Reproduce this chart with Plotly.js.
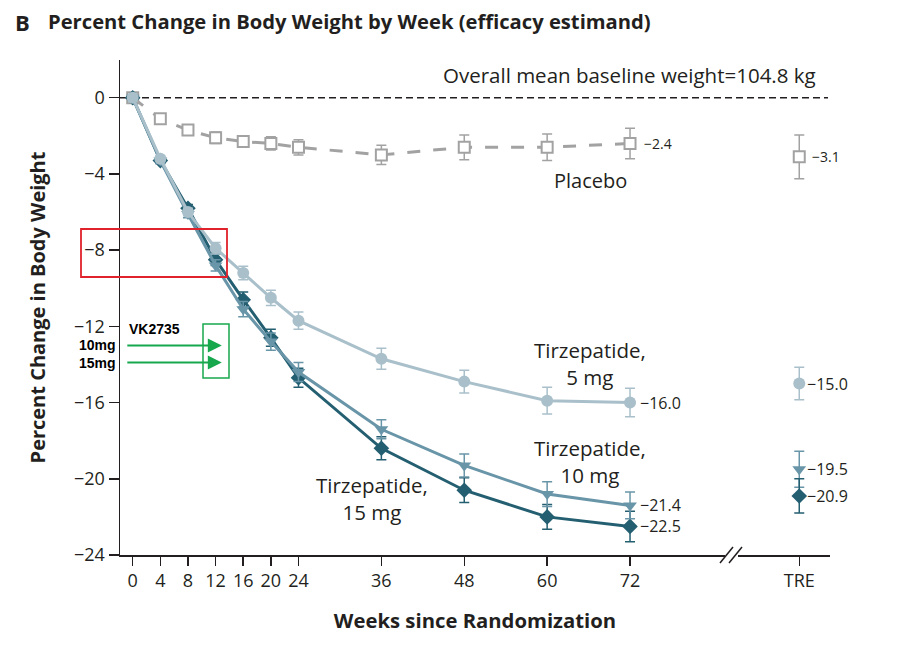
<!DOCTYPE html>
<html>
<head>
<meta charset="utf-8">
<script src="https://cdn.plot.ly/plotly-3.0.1.min.js"></script>
<style>
  html, body { margin: 0; padding: 0; background: #fff; }
  #chart { width: 898px; height: 656px; }
</style>
</head>
<body>
<div id="chart"></div>
<script>
// ---------------- data ----------------
const weeks = [0, 4, 8, 12, 16, 20, 24, 36, 48, 60, 72];
const placebo    = [0, -1.1, -1.7, -2.1, -2.3, -2.4, -2.6, -3.0, -2.6, -2.6, -2.4];
const placeboErr = [0, 0.2, 0.25, 0.3, 0.3, 0.35, 0.4, 0.5, 0.65, 0.7, 0.8];
const tirz5      = [0, -3.2, -6.0, -7.9, -9.2, -10.5, -11.7, -13.7, -14.9, -15.9, -16.0];
const tirz5Err   = [0, 0.15, 0.2, 0.3, 0.35, 0.4, 0.45, 0.55, 0.6, 0.7, 0.75];
const tirz10     = [0, -3.3, -6.1, -8.8, -11.1, -12.8, -14.4, -17.4, -19.3, -20.8, -21.4];
const tirz10Err  = [0, 0.15, 0.2, 0.3, 0.4, 0.45, 0.5, 0.5, 0.6, 0.65, 0.7];
const tirz15     = [0, -3.3, -5.8, -8.5, -10.6, -12.6, -14.7, -18.4, -20.6, -22.0, -22.5];
const tirz15Err  = [0, 0.15, 0.2, 0.3, 0.4, 0.45, 0.5, 0.6, 0.65, 0.65, 0.8];

// treatment-regimen estimand (TRE) values
const treWeek = 96.5;
const treValues = { placebo: -3.1, tirz5: -15.0, tirz10: -19.5, tirz15: -20.9 };
const treErr    = { placebo: 1.15, tirz5: 0.85, tirz10: 0.95, tirz15: 0.9 };

// tick labels
const xTickVals = [0, 4, 8, 12, 16, 20, 24, 36, 48, 60, 72, treWeek];
const xTickText = ['0', '4', '8', '12', '16', '20', '24', '36', '48', '60', '72', 'TRE'];
const yTickVals = [0, -4, -8, -12, -16, -20, -24];
const yTickText = yTickVals.map(v => v === 0 ? '0' : '\u2212' + Math.abs(v));

// VK2735 overlay
const vkLabels = ['10mg', '15mg'];
const vkValues = [-13.0, -13.9];
const vkWeek = 12.9;

// ---------------- styling ----------------
const C = {
  placebo: '#a2a2a2',
  tirz5: '#a9c0cb',
  tirz10: '#6995a8',
  tirz15: '#245f71',
  text: '#231f20',
  green: '#17a84e',
  red: '#e0222c'
};
const FONT = '"Open Sans", Lato, sans-serif';
const ARIAL = 'Arial, "Liberation Sans", sans-serif';
const L = 120, R = 68, T = 60, B = 101, WIDTH = 898, HEIGHT = 656;
const PW = WIDTH - L - R, PH = HEIGHT - T - B;
const px = X => (X - L) / PW;
const py = Y => (HEIGHT - B - Y) / PH;
const fmt = v => '\u2212' + Math.abs(v).toFixed(1);

function markerStyle(color, symbol, size, open) {
  return { symbol: symbol, size: size, color: open ? '#fff' : color,
           line: { color: color, width: open ? 2 : 0 } };
}
function series(name, y, err, color, symbol, size, open, dash) {
  return {
    type: 'scatter', mode: 'lines+markers', name: name,
    x: weeks, y: y,
    error_y: { type: 'data', array: err, visible: true, color: color, thickness: 1.5, width: 5 },
    line: { color: color, width: 3, dash: dash },
    marker: markerStyle(color, symbol, size, open),
    cliponaxis: false, hoverinfo: 'skip'
  };
}
function tre(name, key, color, symbol, size, open) {
  return {
    type: 'scatter', mode: 'markers', name: name + ' TRE',
    x: [treWeek], y: [treValues[key]],
    error_y: { type: 'data', array: [treErr[key]], visible: true, color: color, thickness: 1.5, width: 5 },
    marker: markerStyle(color, symbol, size, open),
    cliponaxis: false, hoverinfo: 'skip'
  };
}

const data = [
  series('Placebo', placebo, placeboErr, C.placebo, 'square', 11, true, '13px,13px'),
  series('Tirzepatide 15 mg', tirz15, tirz15Err, C.tirz15, 'diamond', 12, false, 'solid'),
  series('Tirzepatide 10 mg', tirz10, tirz10Err, C.tirz10, 'triangle-down', 12, false, 'solid'),
  series('Tirzepatide 5 mg', tirz5, tirz5Err, C.tirz5, 'circle', 12, false, 'solid'),
  tre('Placebo', 'placebo', C.placebo, 'square', 11, true),
  tre('Tirzepatide 5 mg', 'tirz5', C.tirz5, 'circle', 12, false),
  tre('Tirzepatide 10 mg', 'tirz10', C.tirz10, 'triangle-down', 12, false),
  tre('Tirzepatide 15 mg', 'tirz15', C.tirz15, 'diamond', 12, false)
];

const last = a => a[a.length - 1];
const lastWeek = last(weeks);
const endLabel = (x, y, shift, size) => ({ x: x, y: y, xanchor: 'left', yanchor: 'middle', xshift: shift,
  text: fmt(y), showarrow: false, font: { family: FONT, size: size, color: C.text } });
const textLabel = (X, Y, text, size) => ({ xref: 'paper', yref: 'paper', x: px(X), y: py(Y),
  xanchor: 'center', yanchor: 'middle', text: text, showarrow: false,
  font: { family: FONT, size: size, color: C.text } });

const annotations = [
  { xref: 'paper', yref: 'paper', x: px(13), y: py(22), xanchor: 'left', yanchor: 'middle',
    text: '<b>B</b>', showarrow: false, font: { family: FONT, size: 22, color: C.text } },
  { xref: 'paper', yref: 'paper', x: px(818), y: py(75), xanchor: 'right', yanchor: 'middle',
    text: 'Overall mean baseline weight=104.8 kg', showarrow: false, font: { family: FONT, size: 20.5, color: C.text } },
  textLabel(590, 180, 'Placebo', 20),
  textLabel(590, 363, 'Tirzepatide,<br>5 mg', 20.5),
  textLabel(590, 461, 'Tirzepatide,<br>10 mg', 20.5),
  textLabel(372, 498, 'Tirzepatide,<br>15 mg', 20.5),
  // end-value labels (from data)
  endLabel(lastWeek, last(placebo), 12, 14),
  endLabel(lastWeek, last(tirz5), 8, 16),
  endLabel(lastWeek, last(tirz10), 8, 16),
  endLabel(lastWeek, last(tirz15), 8, 16),
  endLabel(treWeek, treValues.placebo, 11, 14),
  endLabel(treWeek, treValues.tirz5, 6, 16),
  endLabel(treWeek, treValues.tirz10, 6, 16),
  endLabel(treWeek, treValues.tirz15, 6, 16),
  // VK2735 overlay
  { xref: 'paper', yref: 'paper', x: px(127), y: py(329), xanchor: 'left', yanchor: 'middle',
    text: '<b>VK2735</b>', showarrow: false, font: { family: ARIAL, size: 14, color: '#000' } }
];
vkLabels.forEach((lab, i) => {
  annotations.push({ xref: 'paper', yref: 'y', x: px(118), y: vkValues[i], xanchor: 'right', yanchor: 'middle',
    text: '<b>' + lab + '</b>', showarrow: false, font: { family: ARIAL, size: 14, color: '#000' } });
  annotations.push({ x: vkWeek, y: vkValues[i], text: '', showarrow: true, ax: -96, ay: 0,
    arrowhead: 2, arrowsize: 1.4, arrowwidth: 2, arrowcolor: C.green });
});

const shapes = [
  // zero reference line
  { type: 'line', xref: 'paper', yref: 'y', x0: 0, x1: px(828), y0: 0, y1: 0,
    line: { color: C.text, width: 1.5, dash: '7px,4px' }, layer: 'below' },
  // axis break
  { type: 'rect', xref: 'paper', yref: 'paper', x0: px(725), x1: px(738), y0: py(558), y1: py(552),
    fillcolor: '#fff', line: { width: 0 } },
  { type: 'line', xref: 'paper', yref: 'paper', x0: px(720), y0: py(563), x1: px(733), y1: py(547),
    line: { color: C.text, width: 1.5 } },
  { type: 'line', xref: 'paper', yref: 'paper', x0: px(729), y0: py(563), x1: px(742), y1: py(547),
    line: { color: C.text, width: 1.5 } },
  // highlight boxes
  { type: 'rect', xref: 'paper', yref: 'paper', x0: px(81), x1: px(227), y0: py(277), y1: py(229),
    line: { color: C.red, width: 1.8 }, fillcolor: 'rgba(0,0,0,0)' },
  { type: 'rect', xref: 'paper', yref: 'paper', x0: px(203), x1: px(229), y0: py(378), y1: py(324),
    line: { color: C.green, width: 1.5 }, fillcolor: 'rgba(0,0,0,0)' }
];

const layout = {
  width: WIDTH, height: HEIGHT,
  margin: { l: L, r: R, t: T, b: B, pad: 0 },
  paper_bgcolor: '#fff', plot_bgcolor: '#fff',
  showlegend: false,
  title: { text: '<b>Percent Change in Body Weight by Week (efficacy estimand)</b>',
           font: { family: FONT, size: 20.2, color: C.text },
           xref: 'container', yref: 'container', x: 48 / WIDTH, xanchor: 'left',
           y: 1 - 22 / HEIGHT, yanchor: 'middle' },
  xaxis: {
    range: [-1.84, 100.95], tickvals: xTickVals, ticktext: xTickText,
    showgrid: false, zeroline: false, showline: true, linecolor: C.text, linewidth: 1.5,
    ticks: 'outside', ticklen: 9, tickwidth: 1.5, tickcolor: C.text,
    tickfont: { family: FONT, size: 18, color: C.text },
    title: { text: '<b>Weeks since Randomization</b>', font: { family: FONT, size: 20.3, color: C.text }, standoff: 22 }
  },
  yaxis: {
    range: [-24, 1.98], tickvals: yTickVals, ticktext: yTickText,
    showgrid: false, zeroline: false, showline: true, linecolor: C.text, linewidth: 1.5,
    ticks: 'outside', ticklen: 10, tickwidth: 1.5, tickcolor: C.text,
    tickfont: { family: FONT, size: 18, color: C.text },
    title: { text: '<b>Percent Change in Body Weight</b>', font: { family: FONT, size: 20, color: C.text }, standoff: 23 }
  },
  annotations: annotations,
  shapes: shapes
};

Plotly.newPlot('chart', data, layout, { displayModeBar: false, staticPlot: true });
</script>
</body>
</html>
